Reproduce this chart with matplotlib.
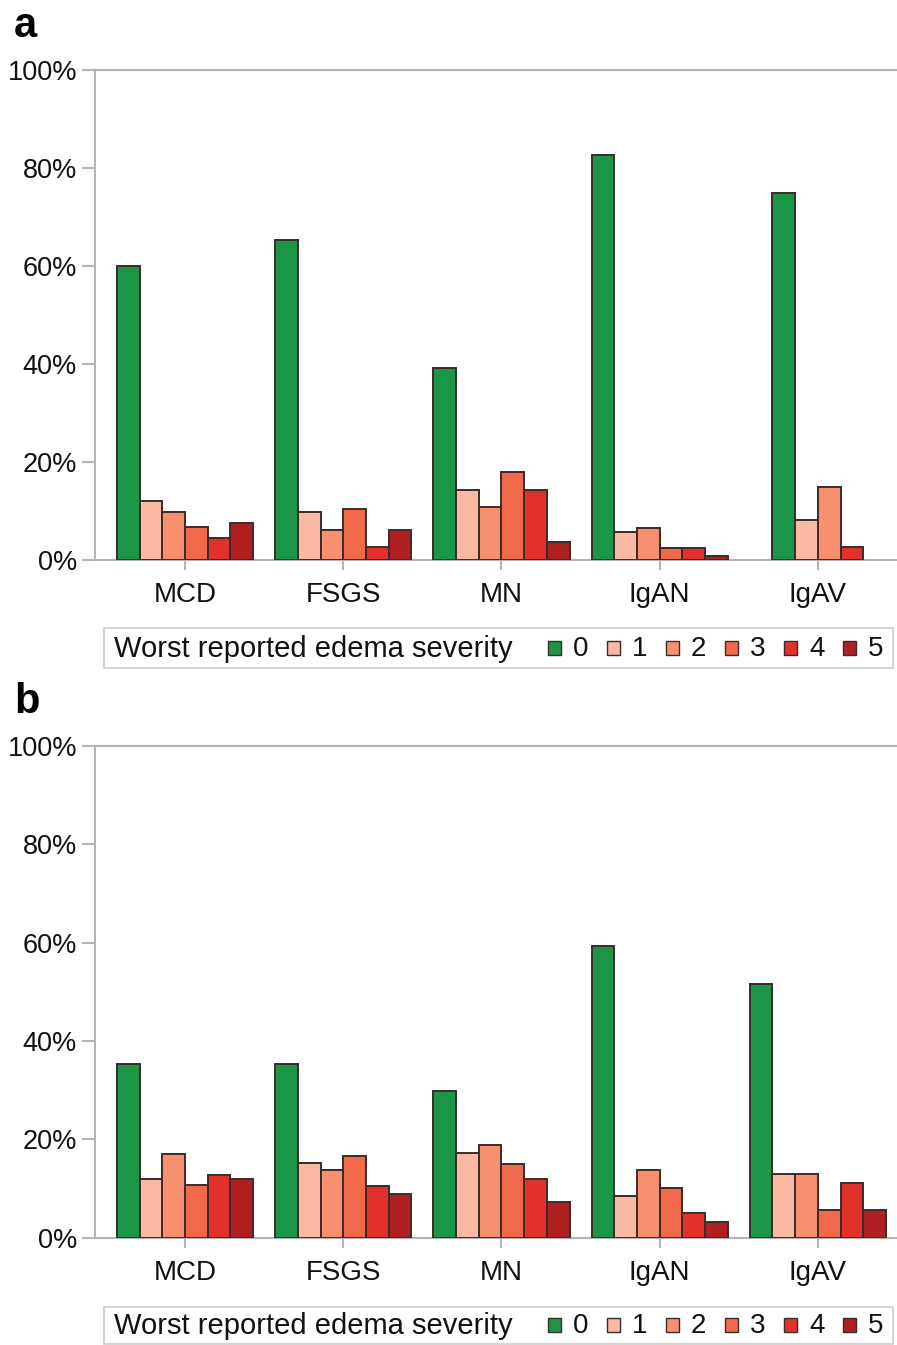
import numpy as np
import matplotlib
matplotlib.use("Agg")
import matplotlib.pyplot as plt
from matplotlib.patches import Rectangle

plt.rcParams['font.family'] = ['Liberation Sans', 'DejaVu Sans']

# datos (porcentaje de pacientes)
grupos = ["MCD", "FSGS", "MN", "IgAN", "IgAV"]
severidad = ["0", "1", "2", "3", "4", "5"]
colores = ["#1a9646", "#fbb9a1", "#f8906f", "#f1684a", "#e2302a", "#b01f22"]

# panel a (nan = categoria sin barra)
valores_a = [
    [60.0, 12.0, 9.7, 6.8, 4.4, 7.5],    # MCD
    [65.3, 9.7, 6.1, 10.5, 2.7, 6.1],    # FSGS
    [39.2, 14.3, 10.8, 18.0, 14.3, 3.6], # MN
    [82.7, 5.7, 6.5, 2.5, 2.5, 0.9],     # IgAN
    [74.9, 8.2, 14.8, np.nan, 2.7, np.nan],  # IgAV
]
# panel b
valores_b = [
    [35.4, 12.0, 17.0, 10.6, 12.7, 12.0],
    [35.4, 15.2, 13.7, 16.5, 10.4, 8.9],
    [29.9, 17.2, 18.8, 14.9, 11.9, 7.2],
    [59.3, 8.5, 13.7, 10.1, 4.9, 3.2],
    [51.6, 12.9, 12.9, 5.5, 11.1, 5.5],
]

W, H = 897, 1345
fig = plt.figure(figsize=(W / 100, H / 100), dpi=100)

gris = "#b4b4b4"
ancho = 0.1435


def panel(y_top, y_bot, valores, letra, y_leg, alto_leg):
    ax = fig.add_axes([95 / W, 1 - y_bot / H, 1 - 95 / W, (y_bot - y_top) / H])
    for i, fila in enumerate(valores):
        presentes = [k for k, v in enumerate(fila) if not np.isnan(v)]
        n = len(presentes)
        for j, k in enumerate(presentes):
            x = i + (j - (n - 1) / 2) * ancho
            ax.bar(x, fila[k], width=ancho, color=colores[k],
                   edgecolor="#3b2b2b", linewidth=1.4, zorder=3)
    ax.set_xlim(-0.569, 4.5)
    ax.set_ylim(0, 100)
    ax.set_yticks(range(0, 101, 20))
    ax.set_yticklabels([f"{v}%" for v in range(0, 101, 20)], fontsize=19.5)
    ax.set_xticks(range(len(grupos)))
    ax.set_xticklabels(grupos, fontsize=20)
    for s in ["left", "bottom", "top"]:
        ax.spines[s].set_color(gris)
        ax.spines[s].set_linewidth(1.5)
    ax.spines["right"].set_visible(False)
    ax.tick_params(axis="both", colors=gris, labelcolor="#111111", width=1.5)
    ax.tick_params(axis="y", length=9.4, pad=3.5)
    ax.tick_params(axis="x", length=7.2, pad=9)

    fig.text(14 / W, 1 - (y_top - 33) / H, letra, fontsize=30,
             fontweight="bold", va="baseline", ha="left")

    # leyenda en linea
    fig.patches.append(Rectangle((104 / W, 1 - (y_leg + alto_leg / 2) / H),
                                 789 / W, alto_leg / H,
                                 transform=fig.transFigure, facecolor="white",
                                 edgecolor="#cccccc", linewidth=1.2))
    fig.text(114 / W, 1 - (y_leg + 1) / H, "Worst reported edema severity",
             fontsize=21, va="center", ha="left", color="#111111")
    x0 = 548
    for k, lab in enumerate(severidad):
        xs = x0 + k * 59
        fig.patches.append(Rectangle((xs / W, 1 - (y_leg + 7) / H), 13 / W, 14 / H,
                                     transform=fig.transFigure, facecolor=colores[k],
                                     edgecolor="#3b2b2b", linewidth=1.0))
        fig.text((xs + 25) / W, 1 - (y_leg + 1) / H, lab, fontsize=20,
                 va="center", ha="left", color="#111111")
    return ax


panel(70, 560, valores_a, "a", 648, 40)
panel(746, 1237.5, valores_b, "b", 1325, 37)

fig.savefig("out.png", dpi=100, facecolor="white")
